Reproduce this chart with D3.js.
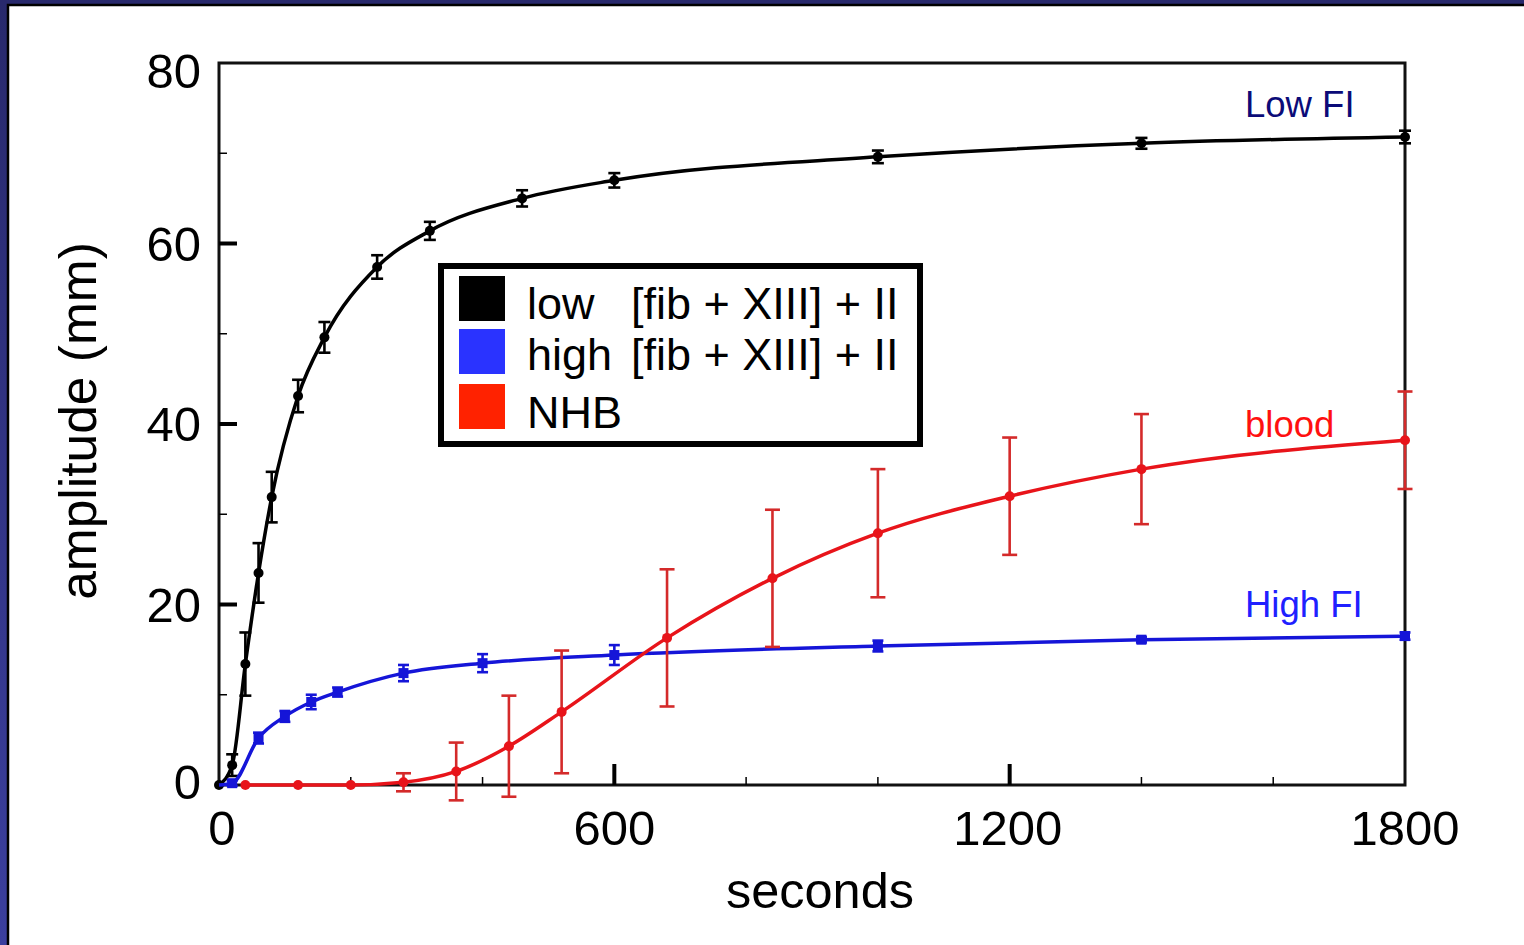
<!DOCTYPE html>
<html lang="en">
<head>
<meta charset="UTF-8">
<script src="https://cdnjs.cloudflare.com/ajax/libs/d3/7.8.5/d3.min.js"></script>
<title>amplitude vs seconds</title>
<style>
  html, body { margin: 0; padding: 0; overflow: hidden; }
  body { font-family: 'Liberation Sans', Arial, sans-serif; }
</style>
</head>
<body>
<svg id="chart"></svg>
<script>
// low [fib + XIII] + II  (Low FI)
const lowT   = [0, 20, 40, 60, 80, 120, 160, 240, 320, 460, 600, 1000, 1400, 1800]
const lowY   = [0, 2.2, 13.4, 23.5, 31.9, 43.1, 49.6, 57.4, 61.4, 65.0, 67.0, 69.6, 71.1, 71.8]
const lowErr = [0, 1.2, 3.5, 3.3, 2.8, 1.8, 1.7, 1.3, 1.0, 0.9, 0.8, 0.7, 0.6, 0.7]

// high [fib + XIII] + II  (High FI)
const highT   = [20, 60, 100, 140, 180, 280, 400, 600, 1000, 1400, 1800]
const highY   = [0.2, 5.2, 7.6, 9.2, 10.3, 12.4, 13.5, 14.4, 15.4, 16.1, 16.5]
const highErr = [0.3, 0.6, 0.6, 0.8, 0.5, 0.9, 1.0, 1.1, 0.6, 0.3, 0.4]

// NHB (blood)
const nhbT   = [40, 120, 200, 280, 360, 440, 520, 680, 840, 1000, 1200, 1400, 1800]
const nhbY   = [0, 0, 0, 0.3, 1.5, 4.3, 8.1, 16.3, 22.9, 27.9, 32.0, 35.0, 38.2]
const nhbErr = [0, 0, 0, 1.0, 3.2, 5.6, 6.8, 7.6, 7.6, 7.1, 6.5, 6.1, 5.4]

const legendNames = ['low', 'high', 'NHB']
const legendSub = ['[fib + XIII] + II', '[fib + XIII] + II', '']
const curveLabels = ['Low FI', 'High FI', 'blood']

const xMajor = [0, 600, 1200, 1800]
const xMinor = [200, 400, 800, 1000, 1400, 1600]
const yMajor = [0, 20, 40, 60, 80]
const yMinor = [10, 30, 50, 70]

const W = 1524, H = 945
const plot = {left: 219, right: 1405, top: 63, bottom: 785}

const svg = d3.select('#chart').attr('width', W).attr('height', H)

// navy slide background with white panel
const defs = svg.append('defs')
const grad = defs.append('linearGradient').attr('id', 'navy')
    .attr('x1', 0).attr('y1', 0).attr('x2', 0).attr('y2', 1)
grad.append('stop').attr('offset', '0%').attr('stop-color', '#28296c')
grad.append('stop').attr('offset', '100%').attr('stop-color', '#3b3f9e')
svg.append('rect').attr('width', W).attr('height', H).attr('fill', 'url(#navy)')
svg.append('rect').attr('x', 8).attr('y', 5).attr('width', W).attr('height', H).attr('fill', '#fff')
svg.append('path').attr('d', `M8,${H} L8,5 L${W},5`).attr('fill', 'none')
    .attr('stroke', '#000').attr('stroke-width', 2.5)

const x = d3.scaleLinear().domain([0, 1800]).range([plot.left, plot.right])
const y = d3.scaleLinear().domain([0, 80]).range([plot.bottom, plot.top])

// frame
svg.append('rect')
    .attr('x', plot.left).attr('y', plot.top)
    .attr('width', plot.right - plot.left).attr('height', plot.bottom - plot.top)
    .attr('fill', 'none').attr('stroke', '#111').attr('stroke-width', 3)

// ticks, drawn inward
svg.append('g').selectAll('line').data(yMajor.filter(d => d > 0 && d < 80)).join('line')
    .attr('x1', plot.left).attr('x2', plot.left + 18)
    .attr('y1', d => y(d)).attr('y2', d => y(d))
    .attr('stroke', '#000').attr('stroke-width', 4)
svg.append('g').selectAll('line').data(yMinor).join('line')
    .attr('x1', plot.left).attr('x2', plot.left + 8)
    .attr('y1', d => y(d)).attr('y2', d => y(d))
    .attr('stroke', '#000').attr('stroke-width', 1.5)
svg.append('g').selectAll('line').data(xMajor.filter(d => d > 0 && d < 1800)).join('line')
    .attr('x1', d => x(d)).attr('x2', d => x(d))
    .attr('y1', plot.bottom).attr('y2', plot.bottom - 21)
    .attr('stroke', '#000').attr('stroke-width', 4)
svg.append('g').selectAll('line').data(xMinor).join('line')
    .attr('x1', d => x(d)).attr('x2', d => x(d))
    .attr('y1', plot.bottom).attr('y2', plot.bottom - 8)
    .attr('stroke', '#000').attr('stroke-width', 1.5)

// tick labels
svg.append('g').selectAll('text').data(yMajor).join('text')
    .attr('x', 201).attr('y', d => y(d))
    .attr('dy', d => d === 80 ? '0.5em' : d === 0 ? '0.28em' : '0.35em')
    .attr('text-anchor', 'end').attr('font-size', 49).text(d => d)
svg.append('g').selectAll('text').data(xMajor).join('text')
    .attr('x', d => x(d) + (d === 0 ? 3 : d === 1200 ? -2 : 0)).attr('y', 845)
    .attr('text-anchor', 'middle').attr('font-size', 49).text(d => d)

svg.append('text').attr('x', 820).attr('y', 908)
    .attr('text-anchor', 'middle').attr('font-size', 50.5).text('seconds')
svg.append('text').attr('transform', 'translate(96,421) rotate(-90)')
    .attr('text-anchor', 'middle').attr('font-size', 51.5).text('amplitude (mm)')

const series = [
  {t: lowT, v: lowY, e: lowErr, line: '#000', bar: '#000', mark: 'circle', cap: 6},
  {t: highT, v: highY, e: highErr, line: '#1515d8', bar: '#1515d8', mark: 'square', cap: 5.5},
  {t: nhbT, v: nhbY, e: nhbErr, line: '#e8141a', bar: '#d42a2a', mark: 'circle', cap: 7.5}
]

const line = d3.line().x(d => x(d[0])).y(d => y(d[1])).curve(d3.curveMonotoneX)

series.forEach(s => {
  const pts = s.t.map((t, i) => [t, s.v[i], s.e[i]])
  const g = svg.append('g')
  const path = s === series[1] ? [[0, 0, 0]].concat(pts) : pts
  g.append('path').datum(path).attr('d', line)
      .attr('fill', 'none').attr('stroke', s.line).attr('stroke-width', 3.5)
  const eb = g.append('g').attr('stroke', s.bar).attr('stroke-width', 2.6)
  pts.filter(d => d[2] > 0).forEach(d => {
    const top = y(d[1] + d[2]), bot = y(d[1] - d[2])
    eb.append('line').attr('x1', x(d[0])).attr('x2', x(d[0])).attr('y1', top).attr('y2', bot)
    eb.append('line').attr('x1', x(d[0]) - s.cap).attr('x2', x(d[0]) + s.cap).attr('y1', top).attr('y2', top)
    eb.append('line').attr('x1', x(d[0]) - s.cap).attr('x2', x(d[0]) + s.cap).attr('y1', bot).attr('y2', bot)
  })
  if (s.mark === 'square') {
    g.selectAll('rect').data(pts).join('rect')
        .attr('x', d => x(d[0]) - 5).attr('y', d => y(d[1]) - 5)
        .attr('width', 10).attr('height', 10).attr('fill', s.line)
  } else {
    g.selectAll('circle').data(pts).join('circle')
        .attr('cx', d => x(d[0])).attr('cy', d => y(d[1])).attr('r', 5).attr('fill', s.line)
  }
})

// curve labels
const labelPos = [[1245, 117, '#0b0b78'], [1245, 617, '#2020ff'], [1245, 437, '#ff1010']]
svg.append('g').selectAll('text').data(curveLabels).join('text')
    .attr('x', (d, i) => labelPos[i][0]).attr('y', (d, i) => labelPos[i][1])
    .attr('fill', (d, i) => labelPos[i][2]).attr('font-size', 36.5).text(d => d)

// legend
const legend = svg.append('g')
legend.append('rect').attr('x', 441).attr('y', 266).attr('width', 479).attr('height', 178)
    .attr('fill', '#fff').attr('stroke', '#000').attr('stroke-width', 6)
const swatch = ['#000', '#2a33ff', '#ff2200']
const rowTop = [276, 329, 384]
const rowBase = [319, 370, 428]
legend.selectAll('rect.sw').data(legendNames).join('rect').attr('class', 'sw')
    .attr('x', 459).attr('y', (d, i) => rowTop[i]).attr('width', 46).attr('height', 45)
    .attr('fill', (d, i) => swatch[i])
legend.selectAll('text.nm').data(legendNames).join('text').attr('class', 'nm')
    .attr('x', 527).attr('y', (d, i) => rowBase[i]).attr('font-size', 45).text(d => d)
legend.selectAll('text.sub').data(legendSub).join('text').attr('class', 'sub')
    .attr('x', 631).attr('y', (d, i) => rowBase[i]).attr('font-size', 45).text(d => d)
</script>
</body>
</html>
